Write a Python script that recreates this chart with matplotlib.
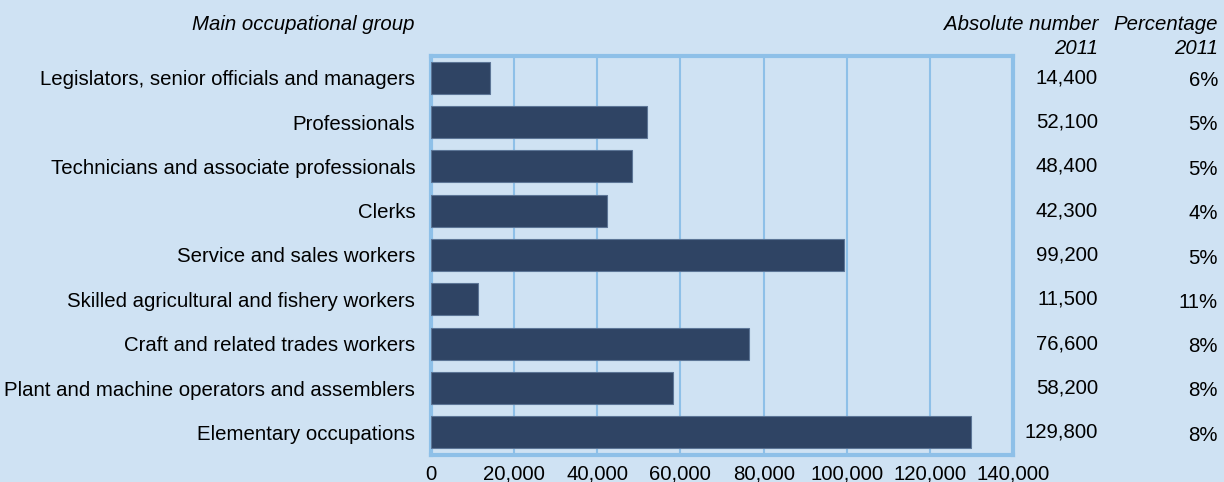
import matplotlib.pyplot as plt
from matplotlib.ticker import FuncFormatter, MultipleLocator

plt.rcParams['font.family'] = ['Liberation Sans', 'DejaVu Sans']

# Employment by main occupational group, 2011
groups = [
    'Legislators, senior officials and managers',
    'Professionals',
    'Technicians and associate professionals',
    'Clerks',
    'Service and sales workers',
    'Skilled agricultural and fishery workers',
    'Craft and related trades workers',
    'Plant and machine operators and assemblers',
    'Elementary occupations',
]
absolute_2011 = [14400, 52100, 48400, 42300, 99200, 11500, 76600, 58200, 129800]
percentage_2011 = [6, 5, 5, 4, 5, 11, 8, 8, 8]

bg = '#cfe2f3'
bar_color = '#2f4464'
frame_color = '#8ec0e8'
fs = 14.7

fig = plt.figure(figsize=(12.24, 4.82), dpi=100, facecolor=bg)
W, H = 1224, 482
ax = fig.add_axes([430.5 / W, 1 - 454.5 / H, (1013.5 - 430.5) / W, (454.5 - 55.5) / H])
ax.set_facecolor(bg)

y = list(range(len(groups)))
ax.barh(y, absolute_2011, height=0.72, color=bar_color, edgecolor='#5c7596',
        linewidth=0.8, zorder=3)
ax.set_ylim(len(groups) - 0.5, -0.5)
ax.set_xlim(0, 140000)

ax.xaxis.set_major_locator(MultipleLocator(20000))
ax.xaxis.set_major_formatter(FuncFormatter(lambda v, _: f'{int(v):,}'))
ax.grid(axis='x', color=frame_color, linewidth=1.5, zorder=1)
ax.tick_params(axis='x', length=0, pad=7.5, labelsize=fs, colors='black')
ax.tick_params(axis='y', length=0, pad=11, labelsize=fs)
ax.set_yticks(y)
ax.set_yticklabels(groups)

for s in ax.spines.values():
    s.set_color(frame_color)
    s.set_linewidth(3)

# value columns on the right
for i, (n, p) in enumerate(zip(absolute_2011, percentage_2011)):
    ax.annotate(f'{n:,}', xy=(1, i), xycoords=('axes fraction', 'data'),
                xytext=(1098 - 1013.5, 0), textcoords='offset pixels',
                ha='right', va='center', fontsize=fs)
    ax.annotate(f'{p}%', xy=(1, i), xycoords=('axes fraction', 'data'),
                xytext=(1218 - 1013.5, -3), textcoords='offset pixels',
                ha='right', va='center', fontsize=fs)

# column headers
fig.text(414 / W, 1 - 24 / H, 'Main occupational group', ha='right', va='center',
         fontsize=fs, style='italic')
fig.text(1098 / W, 1 - 36.5 / H, 'Absolute number\n2011', ha='right', va='center',
         fontsize=fs, style='italic', linespacing=1.3)
fig.text(1218 / W, 1 - 36.5 / H, 'Percentage\n2011', ha='right', va='center',
         fontsize=fs, style='italic', linespacing=1.3)

fig.savefig('out.png', dpi=100, facecolor=bg)
